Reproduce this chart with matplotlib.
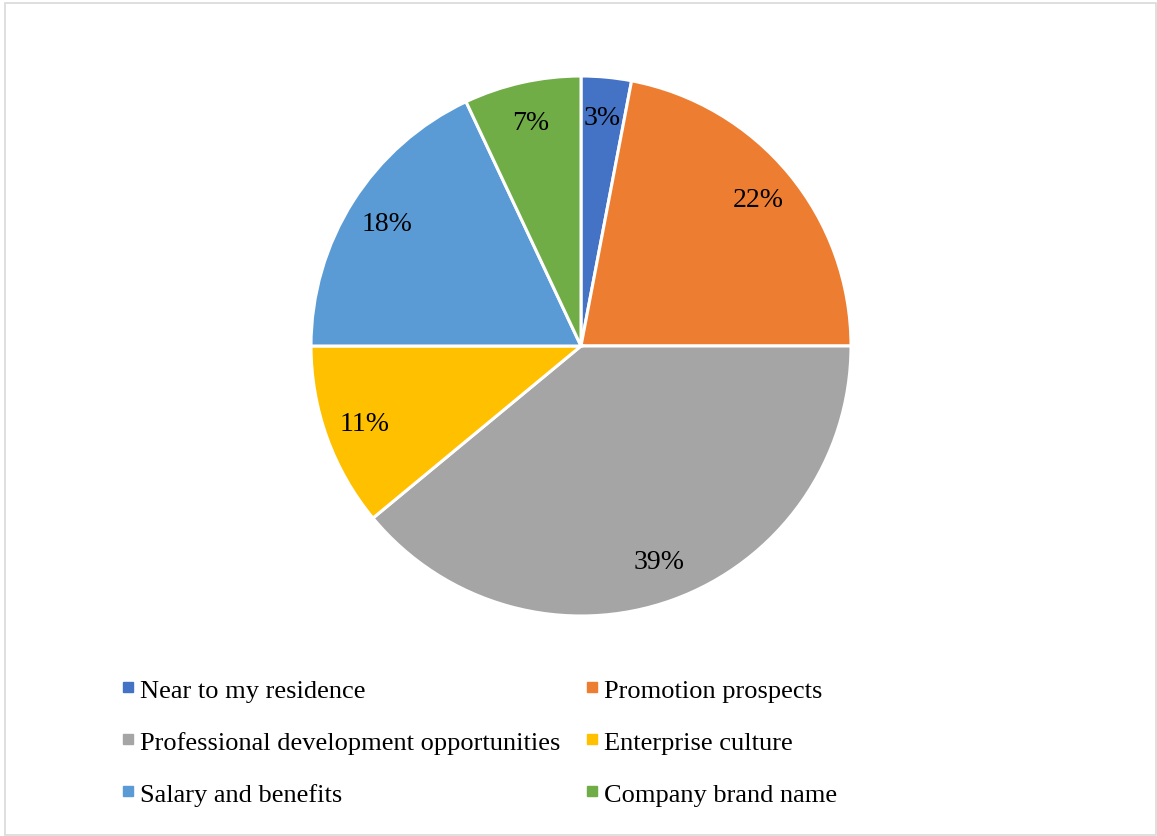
import matplotlib.pyplot as plt
from matplotlib.lines import Line2D
from matplotlib.patches import Rectangle

plt.rcParams['font.family'] = ['Liberation Serif', 'DejaVu Serif']

factors = ['Near to my residence', 'Promotion prospects',
           'Professional development opportunities', 'Enterprise culture',
           'Salary and benefits', 'Company brand name']
shares = [3, 22, 39, 11, 18, 7]
colors = ['#4472C4', '#ED7D31', '#A5A5A5', '#FFC000', '#5B9BD5', '#70AD47']

W, H = 1157, 837
fig = plt.figure(figsize=(W / 100, H / 100), dpi=100)

# outer frame
fig.patches.append(Rectangle((5 / W, 1 / H), (W - 6) / W, (H - 5) / H,
                             transform=fig.transFigure, fill=False,
                             edgecolor='#D9D9D9', linewidth=1.2))

cx, cy, r = 581, 347, 270
ax = fig.add_axes([(cx - r) / W, (H - cy - r) / H, 2 * r / W, 2 * r / H])
wedges, texts, autotexts = ax.pie(
    shares, colors=colors, startangle=90, counterclock=False,
    autopct='%d%%', pctdistance=0.85,
    wedgeprops=dict(edgecolor='white', linewidth=2.2),
    textprops=dict(fontsize=20, color='black'))
ax.set_xlim(-1, 1)
ax.set_ylim(-1, 1)
ax.set_aspect('equal')

# legend laid out row by row in two columns
order = [0, 2, 4, 1, 3, 5]
handles = [Line2D([], [], marker='s', linestyle='none', markersize=7,
                  markerfacecolor=colors[i], markeredgecolor=colors[i])
           for i in order]
fig.legend(handles, [factors[i] for i in order], ncol=2,
           loc='upper left', bbox_to_anchor=(108 / W, 1 - 666 / H),
           frameon=False, fontsize=19, handlelength=0.5, handletextpad=0.2,
           labelspacing=1.08, columnspacing=0.95, borderpad=0)

fig.savefig('out.png', dpi=100, facecolor='white')
